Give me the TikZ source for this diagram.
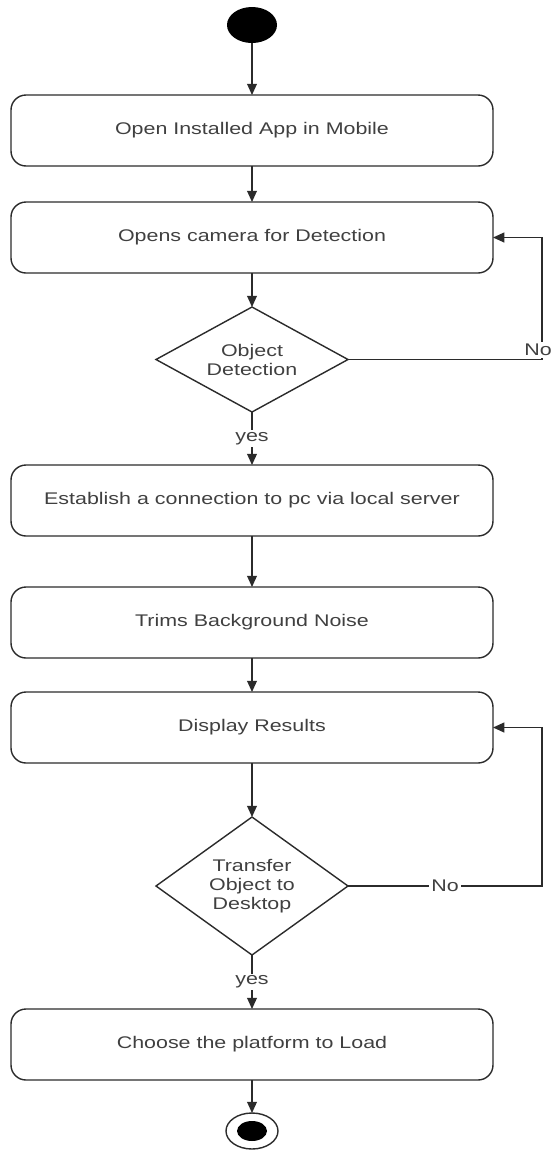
\documentclass[tikz,border=0pt]{standalone}
\usepackage{fontspec}
\usepackage{xcolor}
\usetikzlibrary{arrows.meta,positioning,shapes.geometric}
\newfontfamily\flowfont[FakeStretch=1.27]{Liberation Sans}
\definecolor{flowLine}{HTML}{2B2B2B}
\definecolor{flowText}{HTML}{404040}

\begin{document}
\begin{tikzpicture}[font=\flowfont\fontsize{12}{13.5}\selectfont,
    text=flowText,outer sep=0pt,
    activity/.style={draw=flowLine,line width=1pt,rounded corners=0.375cm,
                     minimum width=12.05cm,minimum height=1.775cm,inner sep=0pt},
    decision/.style={draw=flowLine,line width=1pt,diamond,align=center,
                     minimum width=4.8cm,inner sep=0pt,aspect=1.4},
    flow/.style={draw=flowLine,line width=1pt,-{Triangle[length=8pt,width=7pt]}},
    guard/.style={fill=white,inner sep=1.5pt}]
  \useasboundingbox (0,0) rectangle (13.85,-28.825);
  % activities, top to bottom
  \node[ellipse,fill=black,minimum width=1.25cm,minimum height=0.9cm,
        inner sep=0pt] (start) at (6.3,-0.625) {};
  \node[activity,below=1.3cm of start] (openapp) {Open Installed App in Mobile};
  \node[activity,below=0.9cm of openapp] (camera) {Opens camera for Detection};
  \node[decision,minimum height=2.625cm,below=0.85cm of camera] (objdet) {Object\\Detection};
  \node[activity,below=1.325cm of objdet] (connect) {Establish a connection to pc via local server};
  \node[activity,below=1.275cm of connect] (trims) {Trims Background Noise};
  \node[activity,below=0.85cm of trims] (display) {Display Results};
  \node[decision,minimum height=3.45cm,below=1.35cm of display] (transfer) {Transfer\\Object to\\Desktop};
  \node[activity,below=1.35cm of transfer] (choose) {Choose the platform to Load};
  \node[ellipse,draw=flowLine,line width=1pt,minimum width=1.3cm,
        minimum height=0.9cm,inner sep=0pt,below=0.825cm of choose] (stop) {};
  \node[ellipse,fill=black,minimum width=0.75cm,minimum height=0.5cm,
        inner sep=0pt] (stopdot) at (stop) {};
  % loop corners
  \coordinate[right=1.225cm of camera.east] (camloop);
  \coordinate[right=1.225cm of display.east] (disploop);
  % connectors
  \draw[flow] (start) -- (openapp);
  \draw[flow] (openapp) -- (camera);
  \draw[flow] (camera) -- (objdet);
  \draw[flow] (objdet.east) -| node[guard,pos=0.5,xshift=-0.1cm,yshift=0.25cm]{No} (camloop) -- (camera.east);
  \draw[flow] (objdet) -- node[guard]{yes} (connect);
  \draw[flow] (connect) -- (trims);
  \draw[flow] (trims) -- (display);
  \draw[flow] (display) -- (transfer);
  \draw[flow] (transfer.east) -| node[guard,pos=0.25]{No} (disploop) -- (display.east);
  \draw[flow] (transfer) -- node[guard]{yes} (choose);
  \draw[flow] (choose) -- (stop);
\end{tikzpicture}
\end{document}
